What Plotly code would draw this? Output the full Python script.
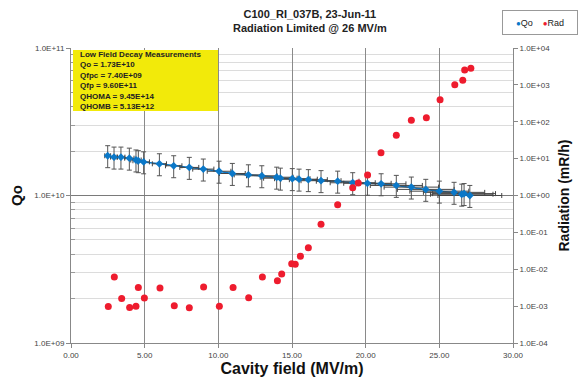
import plotly.graph_objects as go

# ---- data ----
field_qo = [2.49, 2.92, 3.39, 3.96, 4.41, 4.57, 4.93, 6.00, 6.97, 8.03, 8.98, 10.05, 10.95,
            12.04, 12.95, 13.96, 14.21, 15.02, 15.48, 16.11, 16.97, 18.10, 19.12, 20.12,
            21.05, 22.08, 23.10, 24.08, 25.00, 26.00, 26.52, 26.68, 27.07]
qo = [1.86e10, 1.82e10, 1.82e10, 1.79e10, 1.74e10, 1.72e10, 1.69e10, 1.64e10, 1.59e10,
      1.55e10, 1.51e10, 1.46e10, 1.41e10, 1.38e10, 1.36e10, 1.33e10, 1.31e10, 1.30e10,
      1.29e10, 1.28e10, 1.26e10, 1.25e10, 1.22e10, 1.21e10, 1.20e10, 1.17e10, 1.14e10,
      1.10e10, 1.07e10, 1.05e10, 1.02e10, 1.03e10, 1.00e10]
qo_err_pct = 17
field_err_pct = 8

field_rad = [2.53, 2.94, 3.44, 3.98, 4.41, 4.57, 4.98, 6.04, 7.01, 8.03, 9.00, 10.07, 11.00,
             12.06, 12.99, 14.01, 14.30, 14.98, 15.22, 15.57, 16.11, 16.97, 18.10, 19.12,
             19.50, 20.13, 21.04, 22.08, 23.10, 24.12, 25.05, 26.05, 26.59, 26.72, 27.14]
rad = [9.7e-4, 6.2e-3, 1.6e-3, 9.2e-4, 1.0e-3, 3.2e-3, 1.66e-3, 3.1e-3, 1.03e-3, 9.1e-4,
       3.3e-3, 1.0e-3, 3.2e-3, 1.7e-3, 6.2e-3, 4.9e-3, 7.4e-3, 1.4e-2, 1.36e-2, 2.24e-2,
       3.8e-2, 0.166, 0.56, 1.63, 2.18, 3.6, 14.5, 42.9, 109, 129, 396, 1012, 1330, 2530, 2810]

x_ticks = [0, 5, 10, 15, 20, 25, 30]
q_ticks = [1e9, 1e10, 1e11]
q_ticktext = ["1.0E+09", "1.0E+10", "1.0E+11"]
r_ticks = [1e-4, 1e-3, 1e-2, 1e-1, 1e0, 1e1, 1e2, 1e3, 1e4]
r_ticktext = ["1.0E-04", "1.0E-03", "1.0E-02", "1.0E-01", "1.0E+00",
              "1.0E+01", "1.0E+02", "1.0E+03", "1.0E+04"]
q_minor = [k * 10 ** e for e in (9, 10) for k in range(2, 10)]

title_lines = ["C100_RI_037B, 23-Jun-11", "Radiation Limited @ 26 MV/m"]
box_lines = ["Low Field Decay Measurements", "Qo = 1.73E+10", "Qfpc = 7.40E+09",
             "Qfp = 9.60E+11", "QHOMA = 9.45E+14", "QHOMB = 5.13E+12"]
series_names = ["Qo", "Rad"]

FONT = "Liberation Sans, Arial, sans-serif"
BLUE = "#0B78C8"
RED = "#EE1C2E"

# the page body has an 8px margin, so the figure is drawn 8px in from the top-left
OFF = 8
W, H = 588 - OFF, 382 - OFF
L, T = 71 - OFF, 48 - OFF
R, B = W - (513 - OFF), H - (343 - OFF)
PW, PH = W - L - R, H - T - B


def px(xp):
    return (xp - OFF - L) / PW


def py(yp):
    return (H - B - (yp - OFF)) / PH


fig = go.Figure()
fig.add_trace(go.Scatter(
    x=field_qo, y=qo, name=series_names[0], mode="lines", showlegend=False,
    line=dict(color=BLUE, width=1.5), hoverinfo="skip",
))
fig.add_trace(go.Scatter(
    x=field_qo, y=qo, name=series_names[0], mode="markers", showlegend=False,
    marker=dict(symbol="diamond", size=6, color=BLUE),
    error_y=dict(type="percent", value=qo_err_pct, color="#555555", thickness=1, width=2.5),
    error_x=dict(type="percent", value=field_err_pct, color="#444444", thickness=1, width=2.5),
))
fig.add_trace(go.Scatter(
    x=field_rad, y=rad, name=series_names[1], mode="markers", yaxis="y2", showlegend=False,
    marker=dict(symbol="circle", size=7, color=RED),
))

tickfont = dict(size=8, color="#444444", family=FONT)

annotations = [
    # title
    dict(text="<b>" + "<br>".join(title_lines) + "</b>", x=px(310), y=py(21.5),
         xref="paper", yref="paper", xanchor="center", yanchor="middle", align="center",
         showarrow=False, borderpad=0, font=dict(size=11, color="#222222", family=FONT)),
    # yellow info box text
    dict(text="<b>" + "<br>".join(box_lines) + "</b>", x=px(79), y=py(80.5),
         xref="paper", yref="paper", xanchor="left", yanchor="middle", align="left",
         showarrow=False, borderpad=0, font=dict(size=8, color="#222222", family=FONT)),
    # legend box
    dict(text=("<span style='color:%s;font-size:8px'>\u25CF</span>%s"
               "&nbsp;&nbsp;&nbsp;&nbsp;<span style='color:%s;font-size:8px'>\u25CF</span>%s")
              % (BLUE, series_names[0], RED, series_names[1]),
         x=px(540), y=py(22.5), xref="paper", yref="paper", xanchor="center", yanchor="middle",
         showarrow=False, width=72, height=21, borderpad=1, borderwidth=1, bordercolor="#999999",
         bgcolor="white", font=dict(size=9, color="#222222", family=FONT)),
]

fig.update_layout(
    width=W, height=H,
    margin=dict(l=L, r=R, t=T, b=B, autoexpand=False),
    paper_bgcolor="white", plot_bgcolor="white",
    font=dict(family=FONT, size=9, color="#333333"),
    showlegend=False,
    xaxis=dict(range=[0, 30], tickvals=x_ticks, tickformat=".2f", automargin=False,
               showgrid=True, gridcolor="#8a8a8a", gridwidth=1,
               showline=True, linecolor="#888888", linewidth=1,
               ticks="outside", ticklen=4, tickcolor="#888888",
               tickfont=tickfont, zeroline=False,
               title=dict(text="<b>Cavity field (MV/m)</b>", font=dict(size=16, color="#111111"),
                          standoff=3)),
    yaxis=dict(type="log", range=[9, 11], tickmode="array", tickvals=q_ticks, ticktext=q_ticktext,
               automargin=False,
               showgrid=True, gridcolor="#7a7a7a", gridwidth=1,
               showline=True, linecolor="#888888", linewidth=1,
               ticks="outside", ticklen=4, tickcolor="#888888",
               tickfont=tickfont,
               minor=dict(tickmode="array", tickvals=q_minor, showgrid=True,
                          gridcolor="#dcdcdc", ticks="inside", ticklen=4, tickcolor="#999999"),
               title=dict(text="<b>Qo</b>", font=dict(size=15, color="#111111"), standoff=8)),
    yaxis2=dict(type="log", range=[-4, 4], overlaying="y", side="right", automargin=False,
                tickmode="array", tickvals=r_ticks, ticktext=r_ticktext,
                showgrid=False, showline=True, linecolor="#888888", linewidth=1,
                ticks="outside", ticklen=4, tickcolor="#888888",
                tickfont=tickfont,
                title=dict(text="<b>Radiation (mR/h)</b>", font=dict(size=14, color="#111111"),
                           standoff=10)),
    shapes=[dict(type="rect", xref="paper", yref="paper",
                 x0=px(73), x1=px(218), y0=py(111), y1=py(50),
                 fillcolor="#F2EA0A", line=dict(width=0), layer="above")],
    annotations=annotations,
)

fig.write_html("out.html")
